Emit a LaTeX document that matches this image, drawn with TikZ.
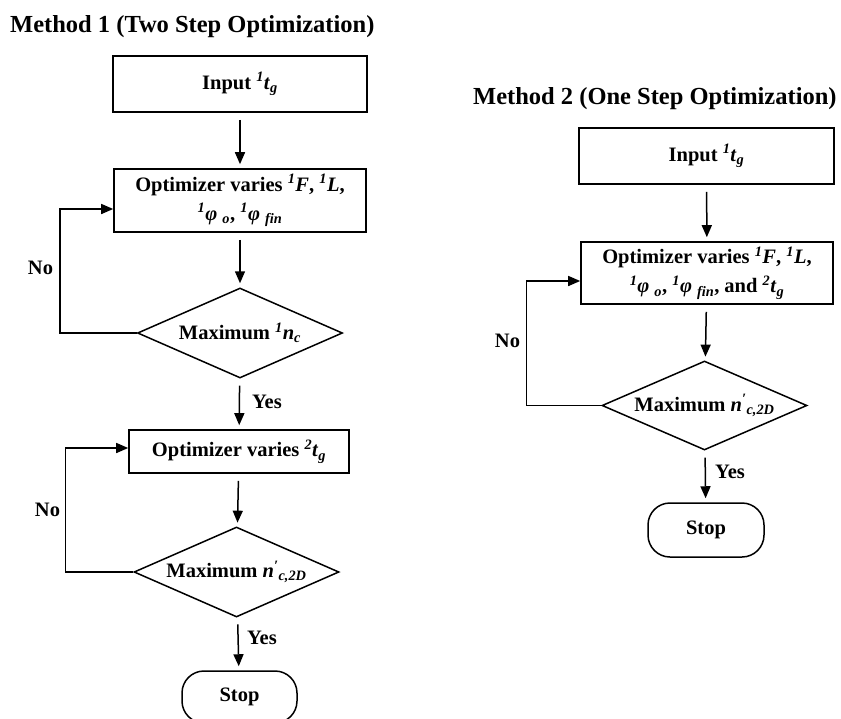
\documentclass[tikz,border=0pt]{standalone}
\usepackage{fontspec}
\setmainfont{Liberation Serif}
\usetikzlibrary{arrows.meta,shapes.geometric}

\newcommand{\upit}[1]{\textsuperscript{\textit{#1}}}
\newcommand{\dnit}[1]{\textsubscript{\textit{#1}}}

\tikzstyle{txt}=[font=\fontsize{20.5}{29}\selectfont\bfseries, inner sep=0pt]
\tikzstyle{block}=[txt, draw, line width=1.6pt, rectangle, align=center]
\tikzstyle{decision}=[txt, draw, line width=1.5pt, diamond, aspect=2.28]
\tikzstyle{stopbox}=[txt, draw, line width=1.5pt, rectangle, rounded corners=22pt]
\tikzstyle{link}=[line width=1.5pt, -{Triangle[length=12pt,width=10pt]}]
\tikzstyle{gap}=[shorten <=7pt, shorten >=4pt]
\tikzstyle{heading}=[font=\fontsize{24.5}{28}\selectfont\bfseries, inner sep=0pt, anchor=base west]

\begin{document}
\begin{tikzpicture}[x=1pt, y=-1pt]

    \useasboundingbox (0,0) rectangle (841,718);

    % method 1
    \node[heading] (head1) at (10,32) {Method 1 (Two Step Optimization)};

    \node[block, minimum width=254pt, minimum height=56pt] (m1in)  at (240,84)    {Input \upit{1}\textit{t}\dnit{g}};
    \node[block, minimum width=252pt, minimum height=63pt] (m1opt) at (240,200.5)
        {Optimizer varies \upit{1}\textit{F}, \upit{1}\textit{L},\\ \upit{1}\textit{φ}\hspace{5pt}\dnit{o}, \upit{1}\textit{φ}\hspace{5pt}\dnit{fin}};
    \node[decision, minimum width=205pt, minimum height=90pt] (m1max) at (240,333)  {Maximum \upit{1}\textit{n}\dnit{c}};
    \node[block, minimum width=220pt, minimum height=43pt] (m1opt2) at (239,451.5) {Optimizer varies \upit{2}\textit{t}\dnit{g}};
    \node[decision, minimum width=205pt, minimum height=90pt] (m1max2) at (236.5,572)
        {Maximum \textit{n}\upit{′}\dnit{c,2D}};
    \node[stopbox, minimum width=115pt, minimum height=52pt] (m1stop) at (239.5,697) {Stop};

    \draw[link, gap] (m1in)   -- (m1opt);
    \draw[link, gap] (m1opt)  -- (m1max);
    \draw[link, gap] (m1max)  -- (m1opt2);
    \draw[link, gap] (m1opt2) -- (m1max2);
    \draw[link, gap] (m1max2) -- (m1stop);

    \draw[link] (m1max.west)  -- ++(-77,0) |- ([yshift=-8.5pt]m1opt.west);
    \draw[link] (m1max2.west) -- ++(-68,0) |- ([yshift=3.5pt]m1opt2.west);

    \node[txt] (m1no1)  at (40.5,268) {No};
    \node[txt] (m1no2)  at (47.5,510) {No};
    \node[txt, anchor=west] (m1yes1) at (252,402) {Yes};
    \node[txt, anchor=west] (m1yes2) at (247,638) {Yes};

    % method 2
    \node[heading] (head2) at (473,104) {Method 2 (One Step Optimization)};

    \node[block, minimum width=255pt, minimum height=56pt] (m2in)  at (706.5,156) {Input \upit{1}\textit{t}\dnit{g}};
    \node[block, minimum width=252pt, minimum height=62pt] (m2opt) at (707,273)
        {Optimizer varies \upit{1}\textit{F}, \upit{1}\textit{L},\\ \upit{1}\textit{φ}\hspace{5pt}\dnit{o}, \upit{1}\textit{φ}\hspace{5pt}\dnit{fin}, and \upit{2}\textit{t}\dnit{g}};
    \node[decision, minimum width=205pt, minimum height=89pt] (m2max) at (704.5,405.5)
        {Maximum \textit{n}\upit{′}\dnit{c,2D}};
    \node[stopbox, minimum width=116pt, minimum height=54pt] (m2stop) at (706,530) {Stop};

    \draw[link, gap] (m2in)  -- (m2opt);
    \draw[link, gap] (m2opt) -- (m2max);
    \draw[link, gap] (m2max) -- (m2stop);

    \draw[link] (m2max.west) -- ++(-75,0) |- ([yshift=-8pt]m2opt.west);

    \node[txt] (m2no) at (507.5,341) {No};
    \node[txt, anchor=west] (m2yes) at (715,472) {Yes};

\end{tikzpicture}
\end{document}
